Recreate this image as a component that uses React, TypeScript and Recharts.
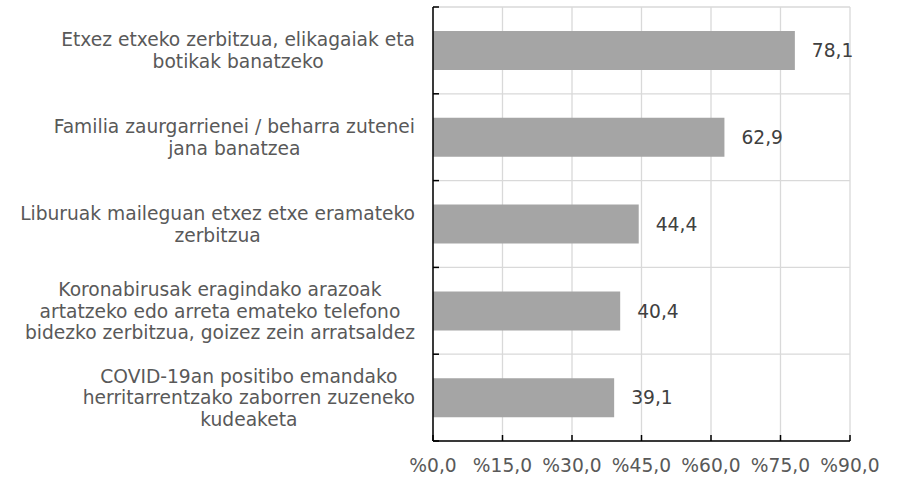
import React from 'react';
import { BarChart, Bar, XAxis, YAxis, CartesianGrid, LabelList } from 'recharts';

const categories: string[][] = [
  ['Etxez etxeko zerbitzua, elikagaiak eta', 'botikak banatzeko'],
  ['Familia zaurgarrienei / beharra zutenei', 'jana banatzea'],
  ['Liburuak maileguan etxez etxe eramateko', 'zerbitzua'],
  ['Koronabirusak eragindako arazoak', 'artatzeko edo arreta emateko telefono', 'bidezko zerbitzua, goizez zein arratsaldez'],
  ['COVID-19an positibo emandako', 'herritarrentzako zaborren zuzeneko', 'kudeaketa'],
];
const values = [78.1, 62.9, 44.4, 40.4, 39.1];
const xTicks = [0, 15, 30, 45, 60, 75, 90];

const data = categories.map((lines, i) => ({ name: lines.join('\n'), value: values[i] }));

const FONT = '"DejaVu Sans", Verdana, sans-serif';
const FS = 18.67;
const TICK = 6;
const LABEL_GAP = 18;
const LINE_H = 21.6;
const TINY = 0.001;

let ctx: CanvasRenderingContext2D | null = null;
function textWidth(s: string): number {
  if (typeof document !== 'undefined') {
    if (!ctx) ctx = document.createElement('canvas').getContext('2d');
    if (ctx) {
      ctx.font = `${FS}px "DejaVu Sans"`;
      return ctx.measureText(s).width;
    }
  }
  return s.length * FS * 0.6;
}

const fmtNum = (v: number) => v.toFixed(1).replace('.', ',');
const fmtPct = (v: number) => '%' + fmtNum(v);

const YTick = (props: any) => {
  const { x, y, payload, index, visibleTicksCount } = props;
  const lines = String(payload.value).split('\n');
  const half = payload.offset || (props.height ? props.height / visibleTicksCount / 2 : 43.4);
  const maxW = Math.max(...lines.map(textWidth));
  const cx = x - LABEL_GAP - maxW / 2;
  const startY = y - ((lines.length - 1) * LINE_H) / 2;
  return (
    <g>
      <line x1={x} x2={x + TICK} y1={y - half} y2={y - half} stroke="#000" strokeWidth={1.5} />
      {index === visibleTicksCount - 1 && (
        <line x1={x} x2={x + TICK} y1={y + half} y2={y + half} stroke="#000" strokeWidth={1.5} />
      )}
      <text textAnchor="middle" fontFamily={FONT} fontSize={FS} fill="#595959">
        {lines.map((l, i) => (
          <tspan key={i} x={cx} y={startY + i * LINE_H} dy="0.36em">
            {l}
          </tspan>
        ))}
      </text>
    </g>
  );
};

const XTick = (props: any) => {
  const { x, y, payload } = props;
  return (
    <g>
      <line x1={x} x2={x} y1={y} y2={y - TICK} stroke="#000" strokeWidth={1.5} />
      <text x={x} y={y + 31} textAnchor="middle" fontFamily={FONT} fontSize={FS} fill="#595959">
        {fmtPct(payload.value)}
      </text>
    </g>
  );
};

export default function App() {
  return (
    <div style={{ position: 'absolute', left: 0, top: 0, background: '#fff' }}>
      <BarChart
        width={901}
        height={478}
        data={data}
        layout="vertical"
        margin={{ top: 7, right: 51, bottom: 7, left: 0 }}
      >
        <CartesianGrid
          stroke="#d9d9d9"
          strokeWidth={1.3}
          horizontalCoordinatesGenerator={({ offset }: any) =>
            Array.from({ length: categories.length + 1 }, (_, i) => offset.top + (i * offset.height) / categories.length)
          }
        />
        <XAxis
          type="number"
          domain={[0, 90]}
          ticks={xTicks}
          interval={0}
          height={30}
          tickSize={TINY}
          tickMargin={TINY}
          tickLine={false}
          axisLine={{ stroke: '#000', strokeWidth: 1.5 }}
          tick={<XTick />}
        />
        <YAxis
          type="category"
          dataKey="name"
          width={433}
          interval={0}
          tickSize={TINY}
          tickMargin={TINY}
          tickLine={false}
          axisLine={{ stroke: '#000', strokeWidth: 1.5 }}
          tick={<YTick />}
        />
        <Bar dataKey="value" fill="#a5a5a5" barSize={39} isAnimationActive={false}>
          <LabelList
            dataKey="value"
            position="right"
            offset={17}
            formatter={(v: any) => fmtNum(Number(v))}
            fill="#404040"
            fontFamily={FONT}
            fontSize={FS}
          />
        </Bar>
      </BarChart>
    </div>
  );
}
